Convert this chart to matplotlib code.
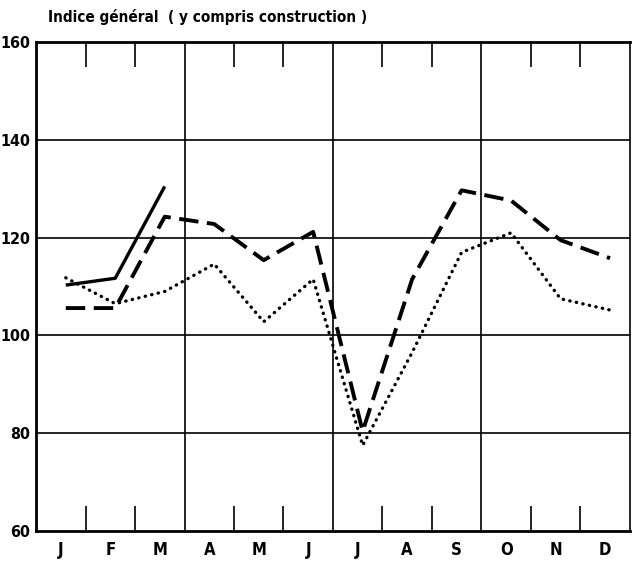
import matplotlib
matplotlib.use("Agg")
import matplotlib.pyplot as plt
import numpy as np

mois = ['J', 'F', 'M', 'A', 'M', 'J', 'J', 'A', 'S', 'O', 'N', 'D']
# trois séries de l'indice général
serie_pleine = [110.3, 111.7, 130.5]
serie_tirets = [105.6, 105.6, 124.3, 122.8, 115.4, 121.2, 80.4, 111.5, 129.7, 127.6, 119.5, 115.8]
serie_points = [111.8, 106.5, 109.0, 114.6, 102.8, 111.5, 77.5, 96.5, 117.0, 121.0, 107.5, 105.2]

police = dict(family='DejaVu Sans', fontstretch='condensed', fontweight='bold')

fig = plt.figure(figsize=(6.33, 5.63), dpi=100)
ax = fig.add_axes([0.057, 0.057, 0.938, 0.868])

x = np.arange(12) + 0.6
ax.plot(x[:len(serie_pleine)], serie_pleine, color='black', lw=2.4, solid_capstyle='butt')
ax.plot(x, serie_tirets, color='black', lw=2.8, dashes=(5, 2.2))
ax.plot(x, serie_points, color='black', lw=2.4, linestyle=(0, (0.1, 1.9)), dash_capstyle='round')

ax.set_xlim(0, 12)
ax.set_ylim(60, 160)

# quadrillage
for v in [80, 100, 120, 140]:
    ax.axhline(v, color='black', lw=1.2)
for q in [3, 6, 9]:
    ax.axvline(q, color='black', lw=1.2)

for s in ax.spines.values():
    s.set_linewidth(2.0)
ax.spines['right'].set_linewidth(1.2)

ax.set_yticks([60, 80, 100, 120, 140, 160])
ax.set_yticklabels(['60', '80', '100', '120', '140', '160'], fontsize=11.5, **police)
ax.tick_params(axis='y', length=0, pad=4)

ax.set_xticks([1, 2, 4, 5, 7, 8, 10, 11])
ax.set_xticklabels([])
ax.tick_params(axis='x', which='major', direction='in', length=18, width=1.2,
               top=True, bottom=True)
ax.set_xticks(np.arange(12) + 0.5, minor=True)
ax.set_xticklabels(mois, minor=True, fontsize=12, **police)
ax.tick_params(axis='x', which='minor', length=0, pad=7)

fig.text(0.076, 0.955, 'Indice général  ( y compris construction )', fontsize=11, ha='left',
         va='bottom', **police)

fig.savefig('out.png', dpi=100)
